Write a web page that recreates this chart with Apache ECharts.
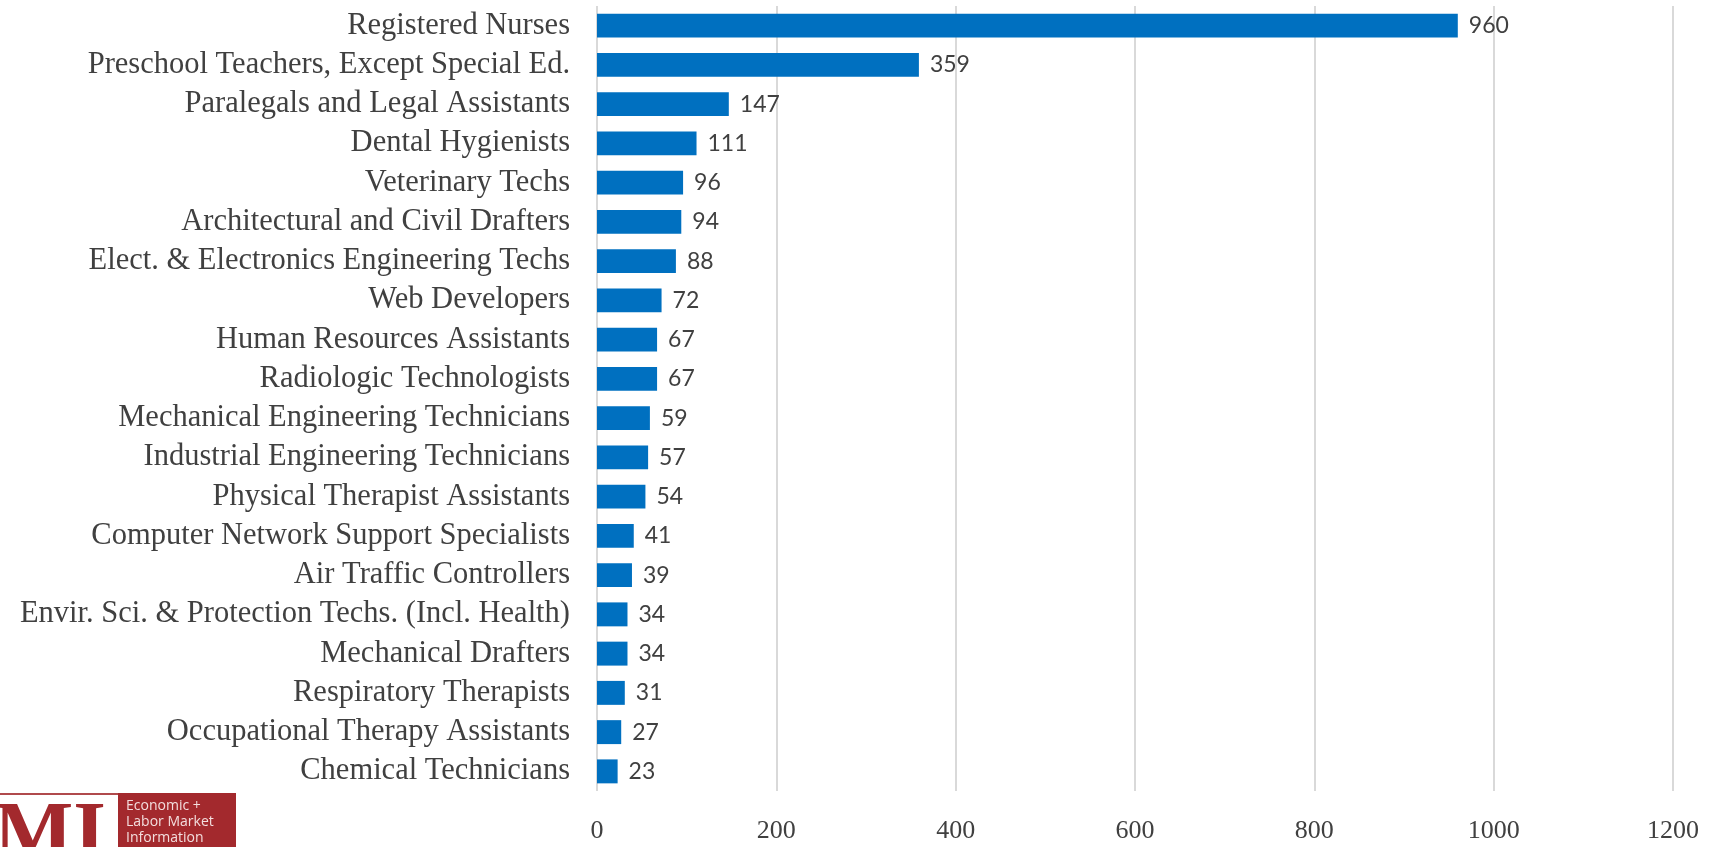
<!DOCTYPE html>
<html>
<head>
<meta charset="utf-8">
<script src="https://cdn.jsdelivr.net/npm/echarts@6/dist/echarts.min.js"></script>
<style>
  html, body { margin: 0; padding: 0; background: #ffffff; }
  #chart { width: 1713px; height: 847px; }
</style>
</head>
<body>
<div id="chart"></div>
<script>
const categories = [
  "Registered Nurses",
  "Preschool Teachers, Except Special Ed.",
  "Paralegals and Legal Assistants",
  "Dental Hygienists",
  "Veterinary Techs",
  "Architectural and Civil Drafters",
  "Elect. & Electronics Engineering Techs",
  "Web Developers",
  "Human Resources Assistants",
  "Radiologic Technologists",
  "Mechanical Engineering Technicians",
  "Industrial Engineering Technicians",
  "Physical Therapist Assistants",
  "Computer Network Support Specialists",
  "Air Traffic Controllers",
  "Envir. Sci. & Protection Techs. (Incl. Health)",
  "Mechanical Drafters",
  "Respiratory Therapists",
  "Occupational Therapy Assistants",
  "Chemical Technicians"
];
const values = [960, 359, 147, 111, 96, 94, 88, 72, 67, 67, 59, 57, 54, 41, 39, 34, 34, 31, 27, 23];
const logoLines = ["Economic +", "Labor Market", "Information"];

const chart = echarts.init(document.getElementById('chart'));
const option = {
  backgroundColor: '#ffffff',
  animation: false,
  grid: { left: 597, right: 40, top: 6, bottom: 56, containLabel: false },
  xAxis: {
    type: 'value',
    min: 0, max: 1200, interval: 200,
    axisLine: { show: false },
    axisTick: { show: false },
    splitLine: { show: true, lineStyle: { color: '#d9d9d9', width: 2 } },
    axisLabel: {
      margin: 27,
      fontFamily: 'Liberation Serif',
      fontSize: 26,
      color: '#404040',
      formatter: function (v) { return String(v); }
    }
  },
  yAxis: {
    type: 'category',
    data: categories,
    inverse: true,
    axisLine: { show: false },
    axisTick: { show: false },
    axisLabel: {
      interval: 0,
      hideOverlap: false,
      margin: 27,
      fontFamily: 'Liberation Serif',
      fontSize: 30.5,
      color: '#404040'
    }
  },
  series: [{
    type: 'bar',
    data: values,
    barCategoryGap: '39%',
    itemStyle: { color: '#0070C0' },
    label: {
      show: true,
      position: 'right',
      distance: 11,
      fontFamily: 'Lato',
      fontSize: 23,
      color: '#404040'
    }
  }],
  graphic: [
    { type: 'rect', shape: { x: 0, y: 793, width: 118, height: 2 }, style: { fill: '#b04a4c' } },
    { type: 'text', style: { text: 'MI', x: 106, y: 796, align: 'right', verticalAlign: 'top',
        font: 'bold 84px "Liberation Serif"', fill: '#a3292d' } },
    { type: 'rect', shape: { x: 118, y: 793, width: 118, height: 60 }, style: { fill: '#a3292d' } },
    { type: 'text', style: { text: logoLines.join('\n'), x: 126, y: 798, verticalAlign: 'top',
        font: '14px "Open Sans"', lineHeight: 16, fill: '#f3dede' } }
  ]
};
chart.setOption(option);
</script>
</body>
</html>
